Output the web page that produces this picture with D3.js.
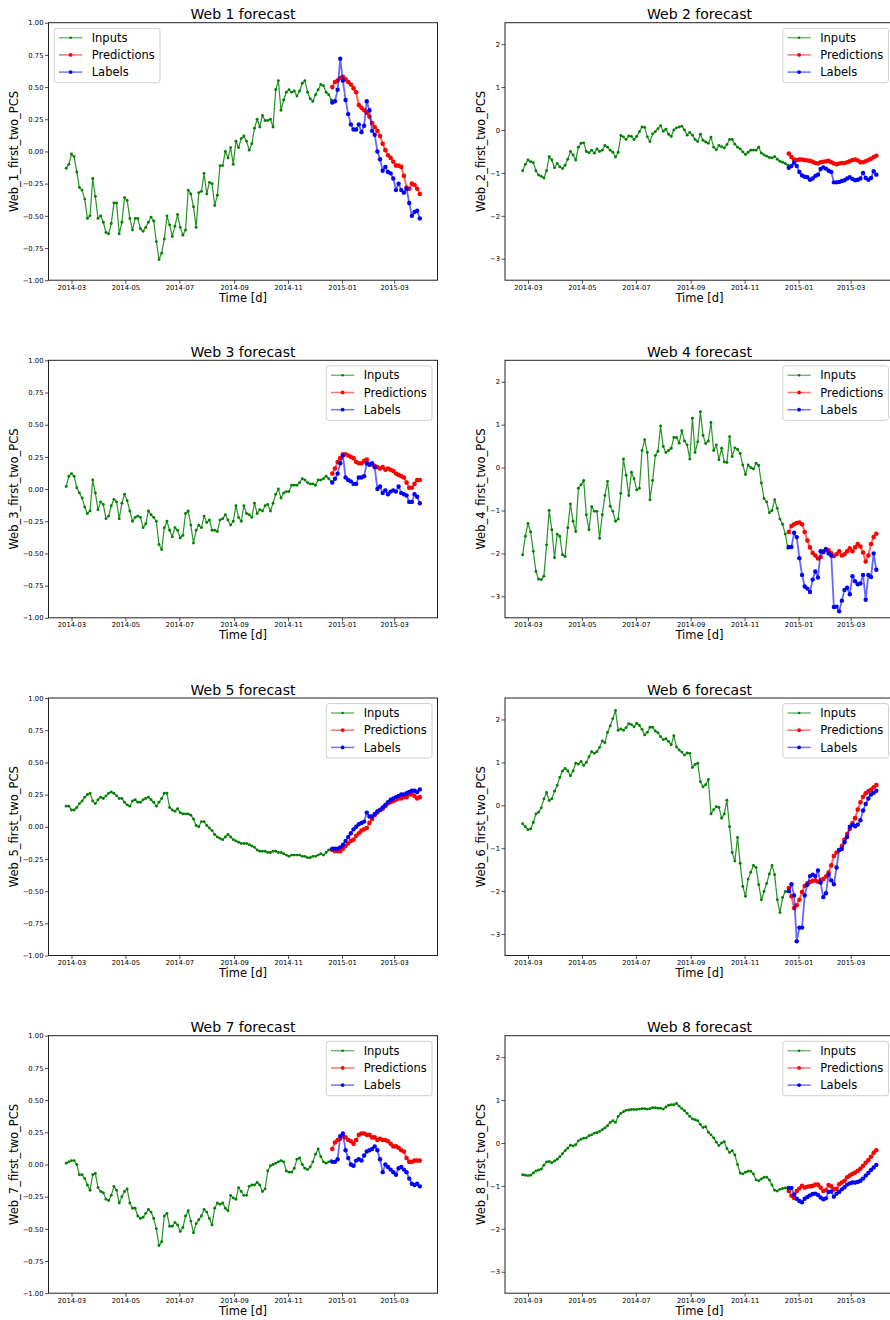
<!DOCTYPE html>
<html>
<head>
<meta charset="utf-8">
<script src="https://cdn.jsdelivr.net/npm/d3@7"></script>
<style>
  body { margin: 0; background: #fff; }
  svg text { font-family: "DejaVu Sans", sans-serif; fill: #000; }
</style>
</head>
<body>
<div id="chart"></div>
<script>
// one reading every 3 days, inputs start 2014-02-23, forecast starts 301 days later
var startDate = new Date(Date.UTC(2014, 1, 23));
var stepDays = 3;
var forecastOffset = 301;

var seriesNames = ["Inputs", "Predictions", "Labels"];
var smallTicks = [-1, -0.75, -0.5, -0.25, 0, 0.25, 0.5, 0.75, 1];
var wideTicks = [-3, -2, -1, 0, 1, 2];

// Web 1
var inputs1 = [-0.13,-0.10,-0.02,-0.04,-0.16,-0.28,-0.30,-0.37,-0.52,-0.50,
  -0.21,-0.35,-0.52,-0.50,-0.55,-0.63,-0.64,-0.56,-0.40,-0.40,
  -0.64,-0.55,-0.36,-0.38,-0.52,-0.61,-0.52,-0.52,-0.60,-0.62,
  -0.59,-0.55,-0.51,-0.54,-0.70,-0.84,-0.79,-0.68,-0.50,-0.57,
  -0.66,-0.58,-0.49,-0.59,-0.65,-0.61,-0.30,-0.33,-0.43,-0.59,
  -0.32,-0.31,-0.17,-0.33,-0.24,-0.25,-0.42,-0.34,-0.11,-0.11,
  0.00,-0.05,0.03,-0.10,0.08,0.03,0.10,0.12,0.08,0.01,
  0.06,0.18,0.25,0.19,0.28,0.24,0.24,0.25,0.19,0.48,
  0.55,0.32,0.40,0.46,0.48,0.46,0.47,0.43,0.47,0.53,
  0.55,0.46,0.41,0.39,0.44,0.48,0.52,0.51,0.46,0.44,
  0.40];
var preds1 = [0.50,0.54,0.55,0.57,0.58,0.56,0.54,0.52,0.49,0.46,
  0.36,0.34,0.32,0.30,0.27,0.22,0.19,0.16,0.12,0.06,
  0.01,-0.03,-0.05,-0.08,-0.11,-0.11,-0.12,-0.19,-0.28,-0.29,
  -0.25,-0.26,-0.29,-0.33];
var labels1 = [0.38,0.39,0.48,0.72,0.55,0.40,0.29,0.21,0.17,0.17,
  0.21,0.15,0.20,0.39,0.32,0.16,0.13,0.00,-0.06,-0.15,
  -0.12,-0.16,-0.17,-0.21,-0.30,-0.25,-0.30,-0.32,-0.29,-0.40,
  -0.50,-0.47,-0.46,-0.52];

// Web 2
var inputs2 = [-0.95,-0.80,-0.70,-0.74,-0.76,-0.95,-1.05,-1.08,-1.12,-0.95,
  -0.62,-0.70,-0.88,-0.78,-0.86,-0.90,-0.82,-0.68,-0.50,-0.58,
  -0.70,-0.40,-0.31,-0.30,-0.50,-0.53,-0.47,-0.54,-0.44,-0.50,
  -0.47,-0.36,-0.40,-0.47,-0.52,-0.63,-0.52,-0.13,-0.16,-0.22,
  -0.14,-0.15,-0.22,-0.15,-0.04,0.07,0.06,-0.16,-0.27,-0.09,
  -0.04,0.03,0.10,-0.03,0.02,-0.10,-0.15,0.00,0.05,0.07,
  0.09,0.00,-0.12,-0.06,-0.12,-0.22,-0.27,-0.10,-0.24,-0.28,
  -0.31,-0.17,-0.40,-0.46,-0.36,-0.39,-0.42,-0.34,-0.22,-0.22,
  -0.33,-0.40,-0.44,-0.51,-0.57,-0.52,-0.47,-0.47,-0.47,-0.40,
  -0.54,-0.58,-0.61,-0.64,-0.65,-0.62,-0.68,-0.73,-0.75,-0.78,
  -0.82];
var preds2 = [-0.55,-0.63,-0.69,-0.70,-0.69,-0.69,-0.70,-0.71,-0.72,-0.74,
  -0.77,-0.78,-0.75,-0.74,-0.73,-0.72,-0.75,-0.78,-0.80,-0.78,
  -0.77,-0.77,-0.75,-0.73,-0.70,-0.69,-0.71,-0.75,-0.75,-0.73,
  -0.70,-0.67,-0.63,-0.60];
var labels2 = [-0.88,-0.84,-0.76,-0.84,-0.98,-1.06,-1.09,-1.10,-1.16,-1.13,
  -1.07,-1.04,-0.91,-0.87,-0.90,-0.95,-0.98,-1.22,-1.22,-1.21,
  -1.19,-1.17,-1.13,-1.10,-1.14,-1.17,-1.16,-1.13,-1.00,-1.12,
  -1.16,-1.12,-0.96,-1.04];

// Web 3
var inputs3 = [0.02,0.10,0.12,0.10,0.01,-0.03,-0.07,-0.14,-0.19,-0.17,
  0.07,-0.03,-0.16,-0.10,-0.12,-0.23,-0.21,-0.13,-0.08,-0.10,
  -0.23,-0.11,-0.04,-0.09,-0.17,-0.25,-0.22,-0.21,-0.22,-0.30,
  -0.27,-0.17,-0.20,-0.22,-0.25,-0.43,-0.47,-0.30,-0.25,-0.32,
  -0.37,-0.30,-0.32,-0.38,-0.36,-0.19,-0.17,-0.28,-0.42,-0.32,
  -0.28,-0.30,-0.21,-0.26,-0.24,-0.32,-0.32,-0.33,-0.24,-0.23,
  -0.20,-0.24,-0.28,-0.25,-0.13,-0.22,-0.25,-0.13,-0.19,-0.20,
  -0.22,-0.11,-0.19,-0.16,-0.17,-0.13,-0.12,-0.17,-0.11,-0.04,
  0.00,-0.07,-0.03,-0.02,-0.02,0.03,0.03,0.03,0.05,0.08,
  0.07,0.05,0.04,0.04,0.03,0.07,0.07,0.08,0.10,0.08,
  0.06];
var preds3 = [0.12,0.16,0.21,0.24,0.27,0.27,0.26,0.25,0.24,0.21,
  0.20,0.20,0.22,0.23,0.19,0.19,0.18,0.17,0.16,0.17,
  0.15,0.16,0.15,0.14,0.12,0.11,0.10,0.09,0.05,0.01,
  0.01,0.04,0.07,0.07];
var labels3 = [0.05,0.08,0.12,0.20,0.26,0.09,0.07,0.06,0.04,0.04,
  0.09,0.09,0.10,0.20,0.19,0.20,0.17,0.00,0.02,-0.03,
  -0.01,-0.04,-0.02,-0.01,-0.02,0.02,-0.03,-0.04,-0.05,-0.10,
  -0.10,-0.04,-0.06,-0.11];

// Web 4
var inputs4 = [-2.03,-1.60,-1.30,-1.50,-1.95,-2.42,-2.60,-2.61,-2.53,-1.80,
  -1.00,-1.45,-2.10,-1.55,-1.60,-2.03,-2.07,-1.40,-0.85,-1.25,
  -1.49,-0.48,-0.40,-0.30,-1.10,-1.45,-0.91,-1.02,-1.02,-1.65,
  -1.10,-0.65,-0.32,-0.90,-1.02,-1.25,-1.20,-0.60,0.20,-0.18,
  -0.65,-0.11,-0.26,-0.52,-0.48,0.40,0.65,0.35,-0.75,-0.30,
  0.28,0.38,0.97,0.49,0.35,0.40,0.45,0.70,0.70,0.57,
  0.86,0.62,0.53,0.20,1.15,0.35,0.60,1.30,0.75,0.56,
  0.62,1.05,0.40,0.53,0.18,0.45,0.13,0.12,0.72,0.26,
  0.46,0.42,0.33,0.06,-0.16,0.06,0.00,-0.03,0.10,0.05,
  -0.36,-0.72,-0.80,-1.05,-1.00,-0.75,-0.95,-1.20,-1.32,-1.55,
  -1.88];
var preds4 = [-1.50,-1.36,-1.32,-1.29,-1.28,-1.32,-1.50,-1.70,-1.86,-1.99,
  -2.05,-2.12,-2.09,-1.95,-1.90,-1.93,-2.00,-2.06,-2.02,-1.95,
  -2.05,-2.02,-1.95,-1.88,-1.95,-1.86,-1.78,-1.84,-1.98,-2.19,
  -2.05,-1.78,-1.62,-1.54];
var labels4 = [-1.85,-1.85,-1.52,-1.62,-2.11,-2.50,-2.77,-2.82,-2.90,-2.61,
  -2.42,-2.56,-1.95,-1.97,-1.91,-2.00,-2.05,-3.25,-3.24,-3.35,
  -3.10,-2.85,-2.80,-2.95,-2.53,-2.65,-2.72,-2.70,-2.50,-3.08,
  -2.50,-2.55,-2.00,-2.38];

// Web 5
var inputs5 = [0.16,0.16,0.13,0.13,0.15,0.18,0.20,0.23,0.25,0.26,
  0.20,0.18,0.21,0.23,0.22,0.24,0.26,0.27,0.26,0.24,
  0.22,0.22,0.19,0.17,0.16,0.20,0.21,0.19,0.19,0.21,
  0.22,0.23,0.21,0.19,0.16,0.19,0.22,0.26,0.26,0.15,
  0.13,0.12,0.14,0.11,0.10,0.10,0.10,0.09,0.06,0.01,
  0.00,0.04,0.04,0.01,-0.01,-0.03,-0.06,-0.08,-0.09,-0.10,
  -0.08,-0.06,-0.08,-0.10,-0.11,-0.12,-0.13,-0.13,-0.13,-0.14,
  -0.15,-0.16,-0.18,-0.19,-0.19,-0.19,-0.20,-0.20,-0.19,-0.19,
  -0.20,-0.20,-0.21,-0.22,-0.23,-0.22,-0.22,-0.22,-0.22,-0.23,
  -0.23,-0.24,-0.24,-0.23,-0.23,-0.22,-0.21,-0.22,-0.20,-0.18,
  -0.18];
var preds5 = [-0.18,-0.19,-0.19,-0.19,-0.17,-0.15,-0.13,-0.11,-0.10,-0.07,
  -0.05,-0.03,-0.02,-0.01,0.03,0.06,0.09,0.11,0.13,0.14,
  0.16,0.18,0.19,0.20,0.21,0.22,0.22,0.23,0.23,0.25,
  0.25,0.24,0.22,0.23];
var labels5 = [-0.17,-0.17,-0.17,-0.16,-0.14,-0.11,-0.08,-0.05,-0.02,0.00,
  0.02,0.03,0.04,0.11,0.08,0.08,0.10,0.12,0.13,0.15,
  0.17,0.19,0.21,0.22,0.23,0.24,0.25,0.25,0.26,0.27,
  0.28,0.28,0.27,0.29];

// Web 6
var inputs6 = [-0.43,-0.50,-0.57,-0.55,-0.40,-0.20,-0.16,-0.06,0.15,0.30,
  0.11,0.15,0.33,0.46,0.65,0.80,0.86,0.80,0.69,0.80,
  0.98,0.96,1.02,0.93,1.00,1.13,1.25,1.21,1.25,1.35,
  1.50,1.46,1.70,1.85,2.02,2.21,1.75,1.78,1.75,1.81,
  1.90,1.88,1.83,1.91,1.86,1.77,1.64,1.70,1.82,1.82,
  1.73,1.69,1.60,1.53,1.55,1.49,1.41,1.62,1.36,1.29,
  1.24,1.17,1.22,1.21,0.88,0.95,0.98,0.55,0.43,0.48,
  0.60,-0.20,-0.10,-0.03,-0.05,-0.30,-0.20,0.12,-0.50,-1.10,
  -1.30,-0.75,-1.35,-1.89,-2.12,-1.72,-1.56,-1.40,-1.45,-1.85,
  -2.20,-2.01,-1.82,-1.60,-1.40,-1.62,-2.20,-2.50,-2.15,-2.01,
  -2.01];
var preds6 = [-1.93,-2.12,-2.40,-2.33,-2.20,-2.02,-1.88,-1.82,-1.79,-1.76,
  -1.75,-1.78,-1.75,-1.72,-1.66,-1.57,-1.40,-1.18,-1.10,-1.04,
  -0.95,-0.80,-0.67,-0.55,-0.42,-0.30,-0.10,0.07,0.20,0.28,
  0.33,0.36,0.42,0.47];
var labels6 = [-2.00,-1.84,-2.10,-3.17,-2.85,-2.85,-2.10,-1.85,-1.65,-1.62,
  -1.65,-1.52,-1.80,-2.14,-2.05,-1.62,-1.75,-1.84,-1.45,-1.04,
  -1.02,-0.86,-0.74,-0.50,-0.46,-0.49,-0.45,-0.35,-0.12,0.03,
  0.16,0.25,0.29,0.34];

// Web 7
var inputs7 = [0.01,0.02,0.03,0.03,0.00,-0.08,-0.08,-0.11,-0.16,-0.20,
  -0.08,-0.07,-0.18,-0.21,-0.22,-0.27,-0.28,-0.24,-0.17,-0.20,
  -0.30,-0.25,-0.21,-0.19,-0.30,-0.34,-0.34,-0.40,-0.42,-0.41,
  -0.38,-0.35,-0.37,-0.42,-0.50,-0.63,-0.60,-0.40,-0.38,-0.48,
  -0.48,-0.45,-0.47,-0.52,-0.49,-0.40,-0.36,-0.44,-0.53,-0.46,
  -0.43,-0.40,-0.35,-0.37,-0.42,-0.47,-0.34,-0.30,-0.31,-0.30,
  -0.34,-0.36,-0.24,-0.26,-0.27,-0.18,-0.21,-0.24,-0.24,-0.17,
  -0.16,-0.16,-0.14,-0.16,-0.21,-0.19,-0.05,-0.01,0.00,0.01,
  0.02,0.03,0.02,-0.05,-0.06,-0.06,-0.03,0.04,0.05,0.00,
  -0.03,-0.04,-0.02,0.02,0.08,0.12,0.06,0.02,0.01,0.02,
  0.03];
var preds7 = [0.12,0.17,0.19,0.20,0.22,0.21,0.19,0.18,0.16,0.19,
  0.23,0.24,0.24,0.23,0.23,0.21,0.21,0.19,0.20,0.19,
  0.19,0.18,0.16,0.14,0.14,0.13,0.11,0.10,0.05,0.02,
  0.02,0.03,0.03,0.03];
var labels7 = [0.02,0.02,0.04,0.22,0.24,0.11,0.05,0.00,-0.01,0.03,
  0.04,0.03,0.07,0.10,0.11,0.12,0.14,0.11,0.04,-0.06,
  0.00,-0.02,-0.04,-0.06,-0.08,-0.03,-0.02,-0.04,-0.06,-0.11,
  -0.15,-0.16,-0.15,-0.17];

// Web 8
var inputs8 = [-0.74,-0.75,-0.76,-0.75,-0.70,-0.65,-0.63,-0.61,-0.52,-0.44,
  -0.43,-0.46,-0.42,-0.38,-0.32,-0.25,-0.18,-0.12,-0.05,-0.07,
  -0.04,0.05,0.09,0.11,0.12,0.17,0.19,0.23,0.24,0.27,
  0.31,0.35,0.40,0.48,0.52,0.48,0.62,0.69,0.73,0.76,
  0.77,0.78,0.78,0.78,0.79,0.80,0.80,0.79,0.80,0.82,
  0.82,0.81,0.81,0.79,0.84,0.88,0.89,0.89,0.92,0.86,
  0.80,0.75,0.69,0.62,0.56,0.54,0.52,0.43,0.36,0.38,
  0.25,0.19,0.12,0.02,-0.06,0.00,0.03,-0.13,-0.22,-0.18,
  -0.28,-0.50,-0.70,-0.72,-0.68,-0.66,-0.66,-0.72,-0.86,-0.88,
  -0.84,-0.80,-0.80,-0.86,-0.98,-1.10,-1.12,-1.08,-1.06,-1.05,
  -1.05];
var preds8 = [-1.12,-1.23,-1.28,-1.12,-1.06,-1.00,-1.04,-1.02,-1.01,-1.00,
  -0.97,-0.97,-1.04,-1.12,-1.10,-0.98,-1.01,-1.08,-1.07,-0.96,
  -0.92,-0.88,-0.80,-0.76,-0.72,-0.69,-0.65,-0.60,-0.53,-0.46,
  -0.40,-0.32,-0.23,-0.17];
var labels8 = [-1.05,-1.05,-1.20,-1.30,-1.35,-1.38,-1.30,-1.26,-1.22,-1.19,
  -1.18,-1.21,-1.27,-1.31,-1.29,-1.14,-1.13,-1.25,-1.18,-1.14,
  -1.08,-1.03,-0.97,-0.94,-0.92,-0.92,-0.91,-0.88,-0.83,-0.76,
  -0.70,-0.63,-0.57,-0.51];

var panels = [
  {name: "Web 1", inputs: inputs1, preds: preds1, labels: labels1},
  {name: "Web 2", inputs: inputs2, preds: preds2, labels: labels2},
  {name: "Web 3", inputs: inputs3, preds: preds3, labels: labels3},
  {name: "Web 4", inputs: inputs4, preds: preds4, labels: labels4},
  {name: "Web 5", inputs: inputs5, preds: preds5, labels: labels5},
  {name: "Web 6", inputs: inputs6, preds: preds6, labels: labels6},
  {name: "Web 7", inputs: inputs7, preds: preds7, labels: labels7},
  {name: "Web 8", inputs: inputs8, preds: preds8, labels: labels8}
];

// layout
var width = 890, height = 1320;
var colX = [48.5, 505], rowY = [22.7, 360.3, 698, 1035.7];
var axW = 389, axH = 257.5;

var styles = [
  {color: "green", lw: 1.2, lineOp: 0.85, r: 1.45},
  {color: "red",   lw: 2,   lineOp: 0.6,  r: 2.3},
  {color: "blue",  lw: 1.8, lineOp: 0.6,  r: 2.2}
];

var svg = d3.select("#chart").append("svg")
  .attr("width", width)
  .attr("height", height);

var x = d3.scaleUtc()
  .domain([d3.utcDay.offset(startDate, -19.5), d3.utcDay.offset(startDate, 420.5)])
  .range([0, axW]);

function toPoints(values, offset) {
  return values.map(function(v, i) {
    return {date: d3.utcDay.offset(startDate, offset + i * stepDays), value: v};
  });
}

panels.forEach(function(p, i) {
  var col = i % 2, row = Math.floor(i / 2);
  var wide = col === 1;
  var g = svg.append("g")
    .attr("transform", "translate(" + colX[col] + "," + rowY[row] + ")");

  var y = d3.scaleLinear()
    .domain(wide ? [-3.5, 2.5] : [-1, 1])
    .range([axH, 0]);

  // axes
  var xAxis = g.append("g")
    .attr("transform", "translate(0," + axH + ")")
    .call(d3.axisBottom(x)
      .ticks(d3.utcMonth.every(2))
      .tickFormat(d3.utcFormat("%Y-%m"))
      .tickSize(3.5)
      .tickPadding(1));
  var yAxis = g.append("g")
    .call(d3.axisLeft(y)
      .tickValues(wide ? wideTicks : smallTicks)
      .tickFormat(d3.format(wide ? "d" : ".2f"))
      .tickSize(3.5)
      .tickPadding(1.5));
  [xAxis, yAxis].forEach(function(a) {
    a.select(".domain").remove();
    a.selectAll("line").attr("stroke", "#222").attr("stroke-width", 0.8);
    a.selectAll("text").style("font-size", "6.8px").attr("fill", "#000");
  });

  // series
  var series = [toPoints(p.inputs, 0), toPoints(p.preds, forecastOffset), toPoints(p.labels, forecastOffset)];
  var line = d3.line()
    .x(function(d) { return x(d.date); })
    .y(function(d) { return y(d.value); });

  series.forEach(function(pts, s) {
    var st = styles[s];
    g.append("path")
      .datum(pts)
      .attr("fill", "none")
      .attr("stroke", st.color)
      .attr("stroke-width", st.lw)
      .attr("stroke-opacity", st.lineOp)
      .attr("stroke-linejoin", "round")
      .attr("d", line);
    g.append("g")
      .selectAll("circle")
      .data(pts)
      .enter()
      .append("circle")
        .attr("cx", function(d) { return x(d.date); })
        .attr("cy", function(d) { return y(d.value); })
        .attr("r", st.r)
        .attr("fill", st.color);
  });

  // frame
  g.append("rect")
    .attr("width", axW)
    .attr("height", axH)
    .attr("fill", "none")
    .attr("stroke", "#222")
    .attr("stroke-width", 1);

  // texts
  g.append("text")
    .attr("x", axW / 2)
    .attr("y", -3.5)
    .attr("text-anchor", "middle")
    .style("font-size", "14px")
    .text(p.name + " forecast");
  g.append("text")
    .attr("x", axW / 2)
    .attr("y", axH + 21.6)
    .attr("text-anchor", "middle")
    .style("font-size", "11.5px")
    .text("Time [d]");
  g.append("text")
    .attr("transform", "translate(" + (wide ? -20 : -31) + "," + (axH / 2) + ") rotate(-90)")
    .attr("text-anchor", "middle")
    .style("font-size", "11.5px")
    .text(p.name.replace(" ", "_") + "_first_two_PCS");

  // legend (upper left on the first panel, upper right elsewhere)
  var lw = 105.7, lh = 54.4;
  var lx = i === 0 ? 5.8 : axW - 5.5 - lw;
  var leg = g.append("g").attr("transform", "translate(" + lx + ",5.6)");
  leg.append("rect")
    .attr("width", lw)
    .attr("height", lh)
    .attr("rx", 2.5)
    .attr("fill", "#fff")
    .attr("fill-opacity", 0.8)
    .attr("stroke", "#d0d0d0")
    .attr("stroke-width", 1);
  seriesNames.forEach(function(name, s) {
    var st = styles[s];
    var ry = 9.4 + s * 17.2;
    leg.append("line")
      .attr("x1", 4.7).attr("x2", 28)
      .attr("y1", ry).attr("y2", ry)
      .attr("stroke", st.color)
      .attr("stroke-width", 1.5)
      .attr("stroke-opacity", 0.55);
    leg.append("circle")
      .attr("cx", 16.3).attr("cy", ry)
      .attr("r", s === 0 ? 1.3 : 1.9)
      .attr("fill", st.color);
    leg.append("text")
      .attr("x", 37.4)
      .attr("y", ry + 4.2)
      .style("font-size", "11.5px")
      .text(name);
  });
});
</script>
</body>
</html>
